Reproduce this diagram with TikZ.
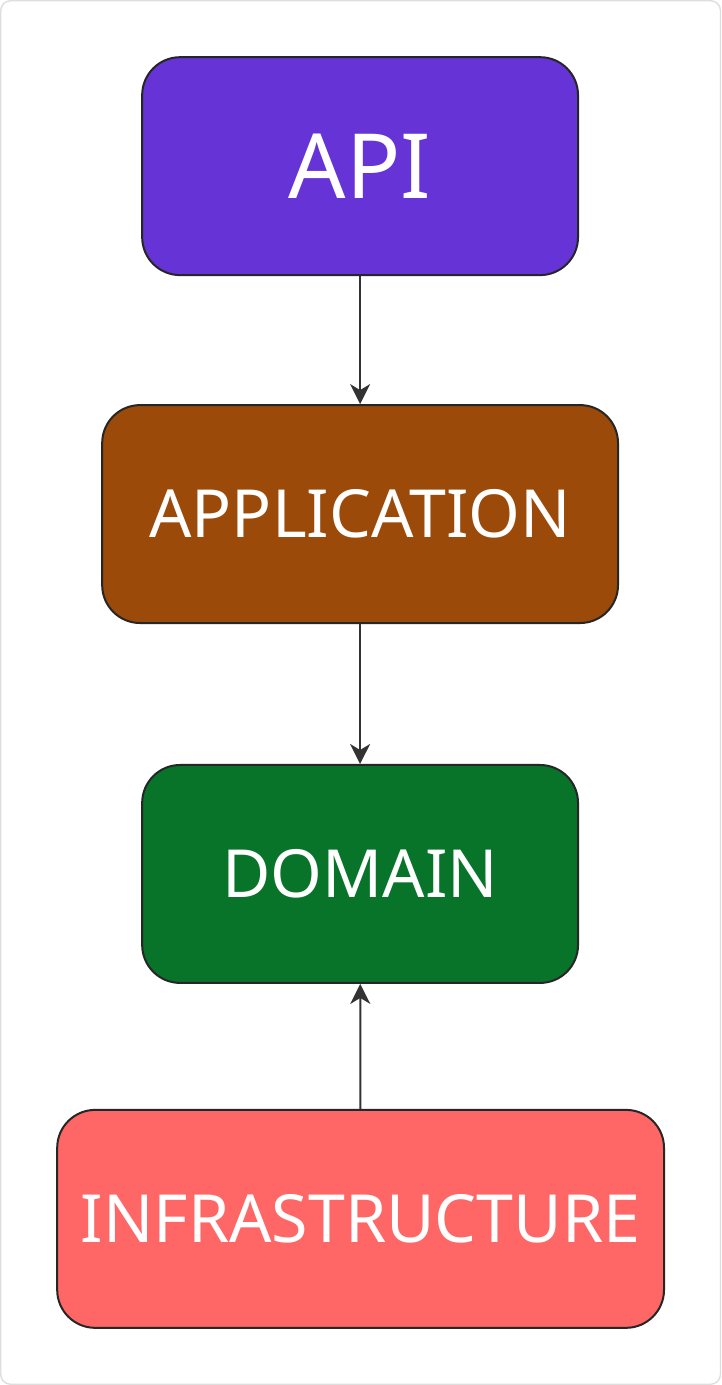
\documentclass[tikz,border=0pt]{standalone}
\usepackage{fontspec}
\setmainfont{Noto Sans}
\usetikzlibrary{arrows.meta}
\definecolor{apicol}{HTML}{6633D6}
\definecolor{appcol}{HTML}{9C4A09}
\definecolor{domcol}{HTML}{08742A}
\definecolor{infcol}{HTML}{FF6666}
\definecolor{edgecol}{HTML}{333333}
\begin{document}
\begin{tikzpicture}[x=0.5pt, y=-0.5pt,
		layer/.style={draw=black!85, line width=1pt, rounded corners=19pt, minimum height=109pt, text=white, font=\fontsize{33.2}{40}\selectfont, inner sep=0pt},
		dep/.style={-{Stealth[length=10pt, width=10pt, inset=3pt]}, draw=edgecol, line width=1pt}]
				\draw[black!13, line width=0.7pt, rounded corners=5pt, fill=white] (0.5,0.5) rectangle (720.5,1384.5);
				\node[layer, fill=apicol, minimum width=218pt, font=\fontsize{45}{52}\selectfont] (api) at (360, 166) {API};
				\node[layer, fill=appcol, minimum width=258pt] (app) at (360, 514) {APPLICATION};
				\node[layer, fill=domcol, minimum width=218pt] (dom) at (360, 874) {DOMAIN};
				\node[layer, fill=infcol, minimum width=303.5pt] (inf) at (360.5, 1219) {INFRASTRUCTURE};
				\draw[dep] (api) -- (app);
				\draw[dep] (app) -- (dom);
				\draw[dep] (inf) -- (dom);
			\end{tikzpicture}
\end{document}
